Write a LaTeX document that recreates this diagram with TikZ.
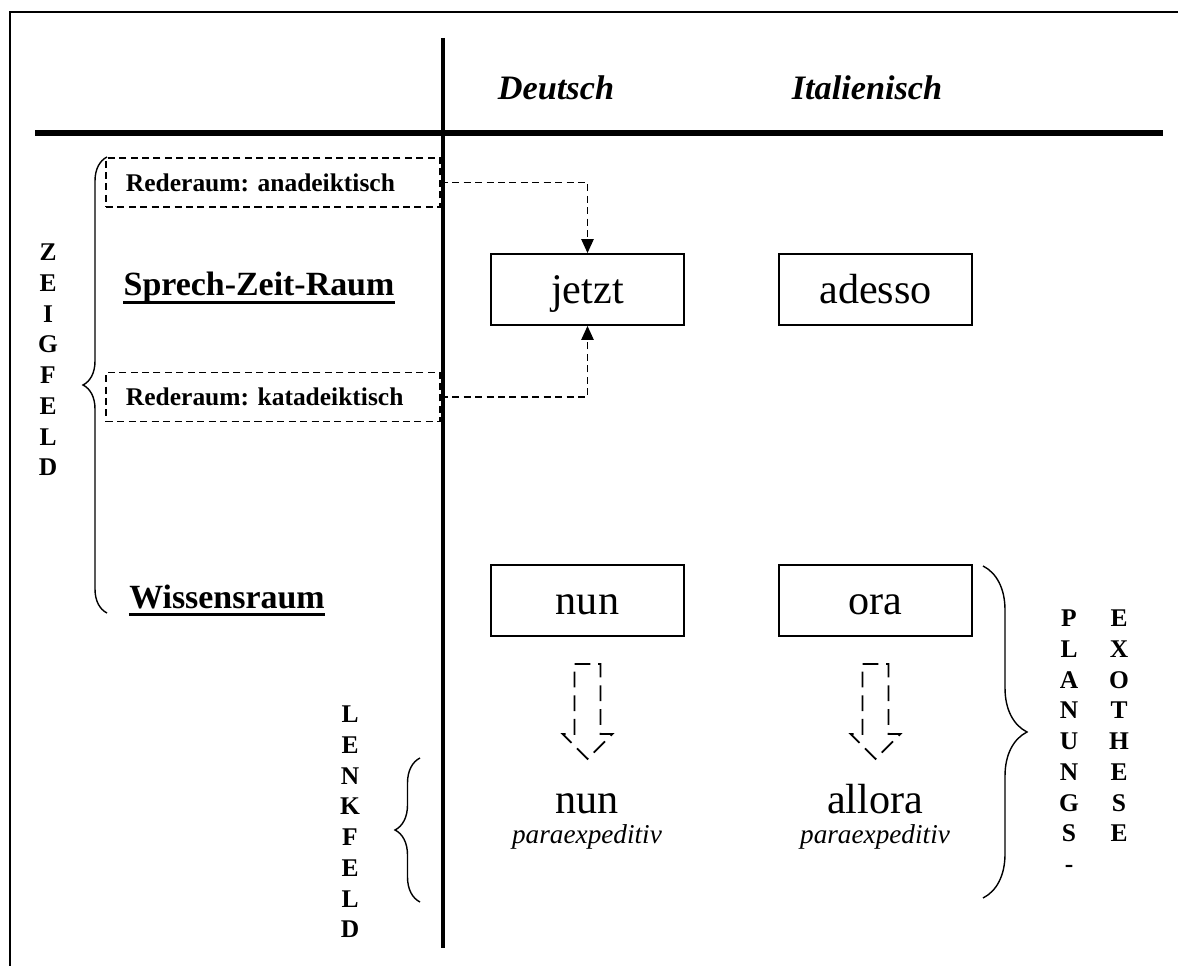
\documentclass[tikz,border=0pt]{standalone}
\usepackage{fontspec}
\setmainfont{Liberation Serif}
\frenchspacing
\usetikzlibrary{arrows.meta,decorations.pathreplacing,calc,positioning}

\tikzset{
  head/.style={anchor=base,inner sep=0pt,font=\fontsize{19.5}{23}\selectfont\bfseries\itshape},
  lab/.style={anchor=base,inner sep=0pt,font=\fontsize{19.3}{23}\selectfont\bfseries},
  uline/.style={line width=1.6pt},
  wbox/.style={draw,line width=1pt,minimum width=3.86cm,minimum height=1.42cm,inner sep=0pt,text height=17pt,text depth=1.6pt,font=\fontsize{24}{28}\selectfont},
  rbox/.style={draw,line width=1pt,dash pattern=on 4pt off 2.5pt,minimum height=0.98cm,text width=5.88cm,inner xsep=0.4cm,inner ysep=0pt,align=left,font=\fontsize{14.5}{17}\selectfont\bfseries},
  dconn/.style={line width=1pt,dash pattern=on 4pt off 2.5pt,-{Triangle[length=8pt,width=7pt]}},
  hollow/.style={line width=1pt,dash pattern=on 9pt off 4.5pt},
  word/.style={anchor=base,inner sep=0pt,font=\fontsize{24}{28}\selectfont},
  para/.style={anchor=base,inner sep=0pt,font=\fontsize{15.5}{18}\selectfont\itshape},
  vlet/.style={anchor=north,inner sep=0pt,align=center,font=\fontsize{14.5}{17.5}\selectfont\bfseries},
  brc/.style={decorate,decoration={brace,amplitude=#1},line width=0.8pt}
}

\begin{document}
\begin{tikzpicture}[x=0.2mm,y=-0.2mm]
	\useasboundingbox (0,0) rectangle (1178,966);
	% frame and table
	\draw[line width=1.2pt] (10,980) -- (10,12) -- (1190,12);
	\draw[line width=2.4pt] (443,38) -- (443,948);
	\draw[line width=3pt] (35,133) -- (1163,133);
	% column heads
	\node[head] (de) at (556,100) {Deutsch};
	\node[head] (it) at (867,100) {Italienisch};
	% left column
	\node[rbox] (ana) at (273,182.5) {Rederaum: anadeiktisch};
	\node[rbox] (kata) at (273,397) {Rederaum: katadeiktisch};
	\node[lab] (szr) at (259,296) {Sprech-Zeit-Raum};
	\node[lab] (wr) at (227,608) {Wissensraum};
	\draw[uline] ([yshift=-3.5pt]szr.base west) -- ([yshift=-3.5pt]szr.base east);
	\draw[uline] ([yshift=-3.5pt]wr.base west) -- ([yshift=-3.5pt]wr.base east);
	% word boxes
	\node[wbox] (jetzt) at (587.5,289.5) {jetzt};
	\node[wbox] (adesso) at (875.5,289.5) {adesso};
	\node[wbox] (nun) at (587.5,600.5) {nun};
	\node[wbox] (ora) at (875.5,600.5) {ora};
	\draw[dconn] (ana.east) -| (jetzt.north);
	\draw[dconn] (kata.east) -| (jetzt.south);
	\foreach \b in {nun,ora}
		\draw[hollow] ($(\b.south)+(-13,27)$) -- ++(26,0) -- ++(0,70) -- ++(12,0) -- ++(-25,25) -- ++(-25,-25) -- ++(12,0) -- cycle;
	\node[word] (nun2) at (587,813) {nun};
	\node[para] (pnun) at (587,843) {paraexpeditiv};
	\node[word] (allora) at (875,813) {allora};
	\node[para] (pall) at (875,843) {paraexpeditiv};
	% braces and vertical labels
	\draw[brc=0.48cm] (107,613) -- (107,157);
	\draw[brc=0.5cm] (420,902) -- (420,758);
	\draw[brc=0.88cm] (983,566) -- (983,898);
	\node[vlet] (zeig) at (48,243.5) {Z\\E\\I\\G\\F\\E\\L\\D};
	\node[vlet] (lenk) at (350,705.5) {L\\E\\N\\K\\F\\E\\L\\D};
	\node[vlet] (plan) at (1069,609.5) {P\\L\\A\\N\\U\\N\\G\\S\\-};
	\node[vlet] (exo) at (1119,609.5) {E\\X\\O\\T\\H\\E\\S\\E};
\end{tikzpicture}
\end{document}
